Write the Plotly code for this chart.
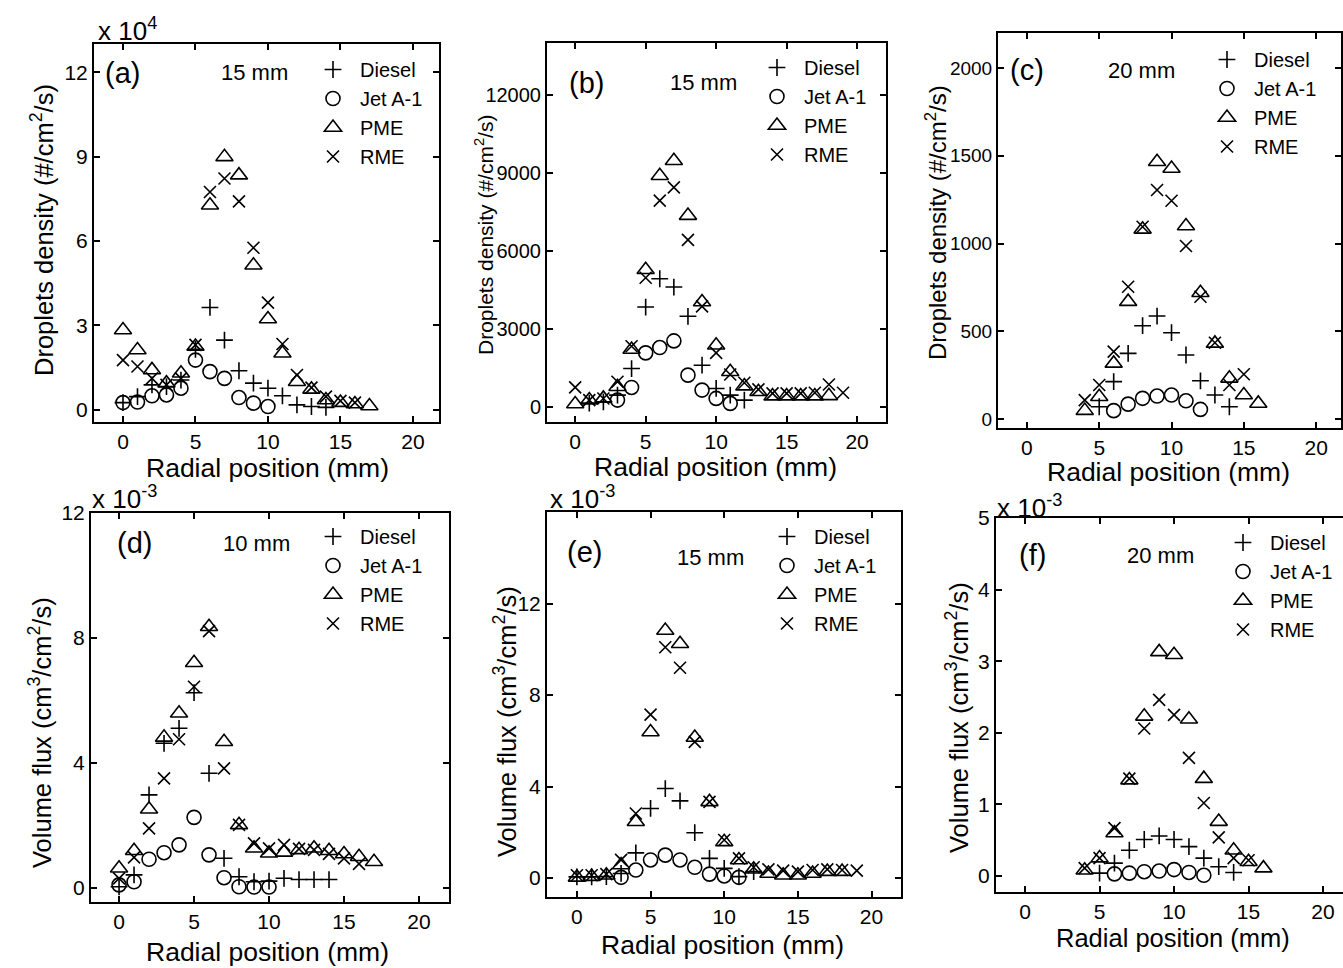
import plotly.graph_objects as go

W, H = 1343, 968
FONT = "Liberation Sans, Arial, sans-serif"

# ---------------- DATA ----------------
# (a) droplets density at 15 mm (x 10^4 #/cm2/s)
a_diesel_x = [0, 1, 2, 3, 4, 5, 6, 7, 8, 9, 10, 11, 12, 13, 14]
a_diesel_y = [0.26, 0.47, 0.89, 0.83, 1.06, 2.15, 3.64, 2.48, 1.39, 0.95, 0.77, 0.50, 0.18, 0.12, 0.09]
a_jet_x = [0, 1, 2, 3, 4, 5, 6, 7, 8, 9, 10]
a_jet_y = [0.26, 0.28, 0.50, 0.53, 0.77, 1.77, 1.36, 1.12, 0.44, 0.24, 0.12]
a_pme_x = [0, 1, 2, 3, 4, 5, 6, 7, 8, 9, 10, 11, 12, 13, 14, 15, 16, 17]
a_pme_y = [2.84, 2.13, 1.42, 0.95, 1.30, 2.25, 7.27, 8.99, 8.34, 5.14, 3.23, 2.01, 1.00, 0.73, 0.35, 0.26, 0.21, 0.14]
a_rme_x = [0, 1, 2, 3, 4, 5, 6, 7, 8, 9, 10, 11, 12, 13, 14, 15, 16]
a_rme_y = [1.77, 1.54, 1.12, 0.89, 1.12, 2.31, 7.74, 8.22, 7.41, 5.76, 3.81, 2.34, 1.24, 0.79, 0.47, 0.32, 0.26]

# (b) droplets density at 15 mm (#/cm2/s)
b_diesel_x = [1, 2, 3, 4, 5, 6, 7, 8, 9, 10, 11, 12]
b_diesel_y = [150, 200, 460, 1480, 3846, 4933, 4615, 3490, 1610, 715, 460, 268]
b_jet_x = [3, 4, 5, 6, 7, 8, 9, 10, 11]
b_jet_y = [268, 754, 2083, 2288, 2543, 1227, 652, 332, 141]
b_pme_x = [0, 1, 2, 3, 4, 5, 6, 7, 8, 9, 10, 11, 12, 13, 14, 15, 16, 17, 18]
b_pme_y = [115, 268, 332, 780, 2212, 5280, 8896, 9470, 7362, 4038, 2377, 1355, 805, 588, 420, 420, 420, 420, 430]
b_rme_x = [0, 1, 2, 3, 4, 5, 6, 7, 8, 9, 10, 11, 12, 13, 14, 15, 16, 17, 18, 19]
b_rme_y = [754, 268, 330, 971, 2339, 4973, 7937, 8448, 6430, 3873, 2083, 1253, 933, 677, 524, 524, 524, 550, 869, 550]

# (c) droplets density at 20 mm (#/cm2/s)
c_diesel_x = [5, 6, 7, 8, 9, 10, 11, 12, 13, 14]
c_diesel_y = [70, 213, 374, 532, 587, 492, 365, 218, 137, 70]
c_jet_x = [6, 7, 8, 9, 10, 11, 12]
c_jet_y = [48, 85, 118, 131, 137, 104, 55]
c_pme_x = [4, 5, 6, 7, 8, 9, 10, 11, 12, 13, 14, 15, 16]
c_pme_y = [48, 127, 317, 669, 1081, 1466, 1428, 1100, 720, 431, 232, 137, 89]
c_rme_x = [4, 5, 6, 7, 8, 9, 10, 11, 12, 13, 14, 15]
c_rme_y = [108, 194, 384, 754, 1096, 1305, 1244, 986, 697, 435, 194, 255]

# (d) volume flux at 10 mm (x 10^-3 cm3/cm2/s)
d_diesel_x = [0, 1, 2, 3, 4, 5, 6, 7, 8, 9, 10, 11, 12, 13, 14]
d_diesel_y = [0.04, 0.42, 2.98, 4.63, 5.11, 6.25, 3.67, 0.95, 0.36, 0.20, 0.22, 0.31, 0.27, 0.27, 0.27]
d_jet_x = [0, 1, 2, 3, 4, 5, 6, 7, 8, 9, 10]
d_jet_y = [0.10, 0.20, 0.92, 1.13, 1.38, 2.26, 1.06, 0.33, 0.04, 0.03, 0.03]
d_pme_x = [0, 1, 2, 3, 4, 5, 6, 7, 8, 9, 10, 11, 12, 13, 14, 15, 16, 17]
d_pme_y = [0.63, 1.19, 2.52, 4.82, 5.59, 7.21, 8.36, 4.68, 2.02, 1.27, 1.11, 1.14, 1.22, 1.27, 1.19, 1.09, 1.00, 0.84]
d_rme_x = [0, 1, 2, 3, 4, 5, 6, 7, 8, 9, 10, 11, 12, 13, 14, 15, 16]
d_rme_y = [0.31, 0.98, 1.91, 3.51, 4.76, 6.44, 8.22, 3.83, 2.02, 1.43, 1.27, 1.38, 1.25, 1.22, 1.09, 0.95, 0.77]

# (e) volume flux at 15 mm (x 10^-3 cm3/cm2/s)
e_diesel_x = [0, 1, 2, 3, 4, 5, 6, 7, 8, 9, 10, 11, 12]
e_diesel_y = [0.05, 0.05, 0.06, 0.20, 1.10, 3.04, 3.91, 3.37, 1.98, 0.86, 0.42, 0.06, 0.28]
e_jet_x = [3, 4, 5, 6, 7, 8, 9, 10, 11]
e_jet_y = [0.03, 0.35, 0.79, 1.00, 0.79, 0.47, 0.17, 0.09, 0.03]
e_pme_x = [0, 1, 2, 3, 4, 5, 6, 7, 8, 9, 10, 11, 12, 13, 14, 15, 16, 17, 18]
e_pme_y = [0.03, 0.06, 0.12, 0.57, 2.46, 6.38, 10.82, 10.24, 6.14, 3.33, 1.58, 0.79, 0.38, 0.20, 0.12, 0.12, 0.20, 0.28, 0.28]
e_rme_x = [0, 1, 2, 3, 4, 5, 6, 7, 8, 9, 10, 11, 12, 13, 14, 15, 16, 17, 18, 19]
e_rme_y = [0.12, 0.12, 0.17, 0.79, 2.82, 7.14, 10.09, 9.19, 5.95, 3.33, 1.66, 0.86, 0.47, 0.38, 0.32, 0.28, 0.35, 0.38, 0.35, 0.32]

# (f) volume flux at 20 mm (x 10^-3 cm3/cm2/s)
f_diesel_x = [5, 6, 7, 8, 9, 10, 11, 12, 13, 14]
f_diesel_y = [0.04, 0.18, 0.36, 0.51, 0.56, 0.51, 0.41, 0.25, 0.13, 0.05]
f_jet_x = [6, 7, 8, 9, 10, 11, 12]
f_jet_y = [0.03, 0.04, 0.06, 0.07, 0.09, 0.05, 0.01]
f_pme_x = [4, 5, 6, 7, 8, 9, 10, 11, 12, 13, 14, 15, 16]
f_pme_y = [0.08, 0.25, 0.60, 1.34, 2.23, 3.13, 3.09, 2.19, 1.36, 0.76, 0.36, 0.20, 0.11]
f_rme_x = [4, 5, 6, 7, 8, 9, 10, 11, 12, 13, 14, 15]
f_rme_y = [0.11, 0.25, 0.67, 1.36, 2.06, 2.46, 2.25, 1.65, 1.02, 0.54, 0.25, 0.22]

fuels = ["Diesel", "Jet A-1", "PME", "RME"]
x_ticks = [0, 5, 10, 15, 20]
a_y_ticks = [0, 3, 6, 9, 12]
b_y_ticks = [0, 3000, 6000, 9000, 12000]
c_y_ticks = [0, 500, 1000, 1500, 2000]
d_y_ticks = [0, 4, 8, 12]
e_y_ticks = [0, 4, 8, 12]
f_y_ticks = [0, 1, 2, 3, 4, 5]
panel_labels = ["(a)", "(b)", "(c)", "(d)", "(e)", "(f)"]
distances = ["15 mm", "15 mm", "20 mm", "10 mm", "15 mm", "20 mm"]
density_title = "Droplets density (#/cm<sup>2</sup>/s)"
flux_title = "Volume flux (cm<sup>3</sup>/cm<sup>2</sup>/s)"
x_title = "Radial position (mm)"

series = {
    "a": [(a_diesel_x, a_diesel_y), (a_jet_x, a_jet_y), (a_pme_x, a_pme_y), (a_rme_x, a_rme_y)],
    "b": [(b_diesel_x, b_diesel_y), (b_jet_x, b_jet_y), (b_pme_x, b_pme_y), (b_rme_x, b_rme_y)],
    "c": [(c_diesel_x, c_diesel_y), (c_jet_x, c_jet_y), (c_pme_x, c_pme_y), (c_rme_x, c_rme_y)],
    "d": [(d_diesel_x, d_diesel_y), (d_jet_x, d_jet_y), (d_pme_x, d_pme_y), (d_rme_x, d_rme_y)],
    "e": [(e_diesel_x, e_diesel_y), (e_jet_x, e_jet_y), (e_pme_x, e_pme_y), (e_rme_x, e_rme_y)],
    "f": [(f_diesel_x, f_diesel_y), (f_jet_x, f_jet_y), (f_pme_x, f_pme_y), (f_rme_x, f_rme_y)],
}

# ---------------- LAYOUT CONFIG (pixels) ----------------
panels = [
    dict(k="a", L=94, R=439, T=44, B=422, xr=[-2, 21.8], yr=[-0.43, 13], yt=a_y_ticks, ytf=21,
         leg=(306, 70), lab=(103, 73), dist=(254, 73), xt=(267, 468), xsz=26.5, ytl=(42, 230), ysz=25.5,
         ytitle=density_title, exp=("x 10<sup>4</sup>", 96, 30)),
    dict(k="b", L=547, R=886, T=43, B=422, xr=[-2, 22.05], yr=[-575, 14000], yt=b_y_ticks, ytf=20,
         leg=(750, 68), lab=(567, 83), dist=(703, 83), xt=(715, 467), xsz=26.5, ytl=(484, 235), ysz=21,
         ytitle=density_title, exp=None),
    dict(k="c", L=998, R=1341, T=33, B=428, xr=[-2, 21.72], yr=[-51, 2200], yt=c_y_ticks, ytf=19,
         leg=(1200, 60), lab=(1008, 70), dist=(1141, 70), xt=(1168, 472), xsz=26.5, ytl=(936, 222), ysz=24,
         ytitle=density_title, exp=None),
    dict(k="d", L=91, R=449, T=513, B=902, xr=[-1.87, 22], yr=[-0.448, 12], yt=d_y_ticks, ytf=21,
         leg=(306, 537), lab=(115, 543), dist=(256, 543), xt=(267, 952), xsz=26.5, ytl=(40, 733), ysz=25.5,
         ytitle=flux_title, exp=("x 10<sup>-3</sup>", 90, 497)),
    dict(k="e", L=547, R=901, T=512, B=897, xr=[-2.03, 22], yr=[-0.83, 16], yt=e_y_ticks, ytf=21,
         leg=(760, 537), lab=(565, 552), dist=(710, 557), xt=(722, 945), xsz=26.5, ytl=(505, 722), ysz=25.5,
         ytitle=flux_title, exp=("x 10<sup>-3</sup>", 548, 497)),
    dict(k="f", L=996, R=1343, T=518, B=892, xr=[-1.95, 21.34], yr=[-0.223, 5], yt=f_y_ticks, ytf=21,
         leg=(1216, 543), lab=(1017, 555), dist=(1160, 555), xt=(1173, 938), xsz=25.5, ytl=(957, 718), ysz=25.5,
         ytitle=flux_title, exp=("x 10<sup>-3</sup>", 995, 506)),
]

markers = [
    dict(symbol="cross-thin-open", size=12),
    dict(symbol="circle-open", size=14),
    dict(symbol="triangle-up-open", size=15),
    dict(symbol="x-thin-open", size=12),
]

LEG_FONT = 20


def ann(text, px, py, size, xanchor="center", yanchor="middle", angle=0):
    return dict(text=text, x=px / W, y=1 - py / H, xref="paper", yref="paper",
                showarrow=False, textangle=angle, xanchor=xanchor, yanchor=yanchor,
                font=dict(size=size, color="black", family=FONT))


fig = go.Figure()
annotations = []
layout = {}

for i, p in enumerate(panels, start=1):
    sfx = "" if i == 1 else str(i)
    legname = "legend" + sfx
    for (xs, ys), name, m in zip(series[p["k"]], fuels, markers):
        fig.add_trace(go.Scatter(
            x=xs, y=ys, mode="markers", name=name,
            xaxis="x" + sfx, yaxis="y" + sfx, legend=legname,
            marker=dict(symbol=m["symbol"], size=m["size"], color="black",
                        line=dict(color="black", width=1.6)),
        ))
    axis_common = dict(showline=True, linewidth=2, linecolor="black", ticks="inside",
                       ticklen=6, tickwidth=1.5, tickcolor="black", showgrid=False,
                       zeroline=False)
    layout["xaxis" + sfx] = dict(domain=[p["L"] / W, p["R"] / W], anchor="y" + sfx,
                                 range=p["xr"], tickvals=x_ticks, mirror="ticks",
                                 tickfont=dict(size=21, color="black", family=FONT), **axis_common)
    layout["yaxis" + sfx] = dict(domain=[1 - p["B"] / H, 1 - p["T"] / H], anchor="x" + sfx,
                                 range=p["yr"], tickvals=p["yt"], tickformat="d",
                                 tickfont=dict(size=p["ytf"], color="black", family=FONT),
                                 mirror=("ticks" if p["k"] != "f" else False), **axis_common)
    # legend top placed so that the first entry is centred on the reference position
    layout[legname] = dict(x=p["leg"][0] / W, y=1 - (p["leg"][1] - 20) / H,
                           xanchor="left", yanchor="top",
                           bgcolor="rgba(0,0,0,0)", borderwidth=0, itemwidth=44,
                           font=dict(size=LEG_FONT, color="black", family=FONT),
                           itemclick=False, itemdoubleclick=False)
    annotations.append(ann(panel_labels[i - 1], p["lab"][0], p["lab"][1], 29, xanchor="left"))
    annotations.append(ann(distances[i - 1], p["dist"][0], p["dist"][1], 22))
    annotations.append(ann(x_title, p["xt"][0], p["xt"][1], p["xsz"]))
    annotations.append(ann(p["ytitle"], p["ytl"][0], p["ytl"][1], p["ysz"], angle=-90))
    if p["exp"]:
        annotations.append(ann(p["exp"][0], p["exp"][1], p["exp"][2], 26, xanchor="left"))

fig.update_layout(
    width=W, height=H, margin=dict(l=0, r=0, t=0, b=0, autoexpand=False),
    paper_bgcolor="white", plot_bgcolor="white", showlegend=True,
    font=dict(family=FONT, color="black"), hovermode=False,
    annotations=annotations, **layout,
)

fig.write_html("out.html", config={"displayModeBar": False},
               post_script="document.body.style.margin='0px';")
